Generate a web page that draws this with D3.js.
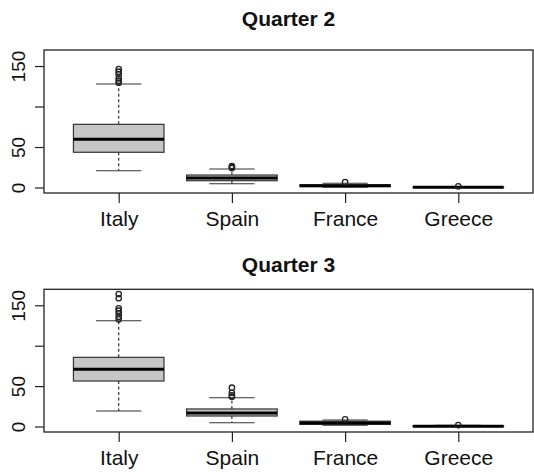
<!DOCTYPE html>
<html>
<head>
<meta charset="utf-8">
<script src="https://cdn.jsdelivr.net/npm/d3@7/dist/d3.min.js"></script>
<style>
  html, body { margin: 0; padding: 0; background: #fff; }
  svg { display: block; }
  text { font-family: "Liberation Sans", Arial, Helvetica, sans-serif; fill: #111; }
</style>
</head>
<body>
<svg id="chart" width="534" height="472"></svg>
<script>
// Categories and quarter titles
const categories = ["Italy", "Spain", "France", "Greece"];
const quarterTitles = ["Quarter 2", "Quarter 3"];

// Five-number summaries per country: [lower whisker, Q1, median, Q3, upper whisker]
const q2Stats = [
  [20.7, 43.5, 59.5, 78.0, 127.8],
  [4.7, 8.4, 11.7, 15.4, 22.8],
  [0.5, 1.2, 2.2, 3.2, 5.3],
  [0.0, 0.0, 0.2, 0.6, 1.2]
];
const q2Outliers = [
  [129.4, 131.8, 134.8, 139.8, 143.0, 146.3],
  [24.0, 25.3, 26.5],
  [6.6],
  [1.4]
];

const q3Stats = [
  [19.2, 56.3, 70.8, 85.6, 130.9],
  [4.7, 13.0, 16.7, 21.7, 35.6],
  [1.5, 2.7, 4.2, 6.6, 8.0],
  [0.0, 0.0, 0.3, 0.8, 1.5]
];
const q3Outliers = [
  [132.7, 135.9, 140.1, 143.3, 146.3, 158.7, 164.0],
  [36.9, 38.5, 41.8, 48.0],
  [8.9],
  [1.8]
];

// Axis ticks
const yTickValues = [0, 50, 100, 150];
const yTickLabels = ["0", "50", "", "150"];
const yDomain = [-6.8, 169.8];

const svg = d3.select("#chart");

const left = 44, right = 533;
const panels = [
  { title: quarterTitles[0], stats: q2Stats, outliers: q2Outliers, top: 50, bottom: 193, titleY: 25.5 },
  { title: quarterTitles[1], stats: q3Stats, outliers: q3Outliers, top: 289.3, bottom: 432, titleY: 272 }
];

const x = d3.scalePoint().domain(categories).range([left, right]).padding(0.66);
const step = x.step();
const boxHalf = 0.4 * step;
const capHalf = 0.2 * step;

panels.forEach(p => {
  const y = d3.scaleLinear().domain(yDomain).range([p.bottom, p.top]);
  const g = svg.append("g");

  // title
  g.append("text")
    .attr("x", (left + right) / 2)
    .attr("y", p.titleY)
    .attr("text-anchor", "middle")
    .style("font-weight", "bold")
    .style("font-size", "21px")
    .text(p.title);

  // boxes
  categories.forEach((c, i) => {
    const [lo, q1, med, q3, hi] = p.stats[i];
    const cx = x(c);
    const bg = g.append("g");

    // whiskers (dashed)
    bg.append("line")
      .attr("x1", cx).attr("x2", cx)
      .attr("y1", y(q3)).attr("y2", y(hi))
      .attr("stroke", "#333").attr("stroke-width", 1.2)
      .attr("stroke-dasharray", "3,2.5");
    bg.append("line")
      .attr("x1", cx).attr("x2", cx)
      .attr("y1", y(q1)).attr("y2", y(lo))
      .attr("stroke", "#333").attr("stroke-width", 1.2)
      .attr("stroke-dasharray", "3,2.5");

    // caps
    [lo, hi].forEach(v => {
      bg.append("line")
        .attr("x1", cx - capHalf).attr("x2", cx + capHalf)
        .attr("y1", y(v)).attr("y2", y(v))
        .attr("stroke", "#333").attr("stroke-width", 1.1);
    });

    // box
    bg.append("rect")
      .attr("x", cx - boxHalf)
      .attr("y", y(q3))
      .attr("width", 2 * boxHalf)
      .attr("height", Math.max(0, y(q1) - y(q3)))
      .attr("fill", "#c6c6c6")
      .attr("stroke", "#333")
      .attr("stroke-width", 1.2);

    // median
    bg.append("line")
      .attr("x1", cx - boxHalf).attr("x2", cx + boxHalf)
      .attr("y1", y(med)).attr("y2", y(med))
      .attr("stroke", "#000").attr("stroke-width", 3);

    // outliers
    bg.selectAll("circle.out")
      .data(p.outliers[i])
      .join("circle")
      .attr("class", "out")
      .attr("cx", cx)
      .attr("cy", d => y(d))
      .attr("r", 2.7)
      .attr("fill", "none")
      .attr("stroke", "#222")
      .attr("stroke-width", 1.3);
  });

  // frame
  g.append("rect")
    .attr("x", left).attr("y", p.top)
    .attr("width", right - left).attr("height", p.bottom - p.top)
    .attr("fill", "none")
    .attr("stroke", "#222")
    .attr("stroke-width", 1.3);

  // x axis
  const xAxis = g.append("g")
    .attr("transform", `translate(0,${p.bottom})`)
    .call(d3.axisBottom(x).tickSize(10).tickPadding(23));
  xAxis.select(".domain").remove();
  xAxis.selectAll(".tick line").attr("stroke", "#222").attr("stroke-width", 1.2);
  xAxis.selectAll(".tick text")
    .attr("dy", 0)
    .style("font-size", "21px")
    .style("font-family", "'Liberation Sans', Arial, sans-serif")
    .attr("fill", "#111");

  // y axis
  const yAxis = g.append("g")
    .attr("transform", `translate(${left},0)`)
    .call(d3.axisLeft(y).tickValues(yTickValues)
      .tickFormat((d, i) => yTickLabels[i]).tickSize(9));
  yAxis.select(".domain").remove();
  yAxis.selectAll(".tick line").attr("stroke", "#222").attr("stroke-width", 1.2);
  yAxis.selectAll(".tick text")
    .attr("x", null).attr("dy", null)
    .attr("text-anchor", "middle")
    .attr("transform", "translate(-19,0) rotate(-90)")
    .style("font-size", "19px")
    .style("font-family", "'Liberation Sans', Arial, sans-serif")
    .attr("fill", "#111");
});
</script>
</body>
</html>
